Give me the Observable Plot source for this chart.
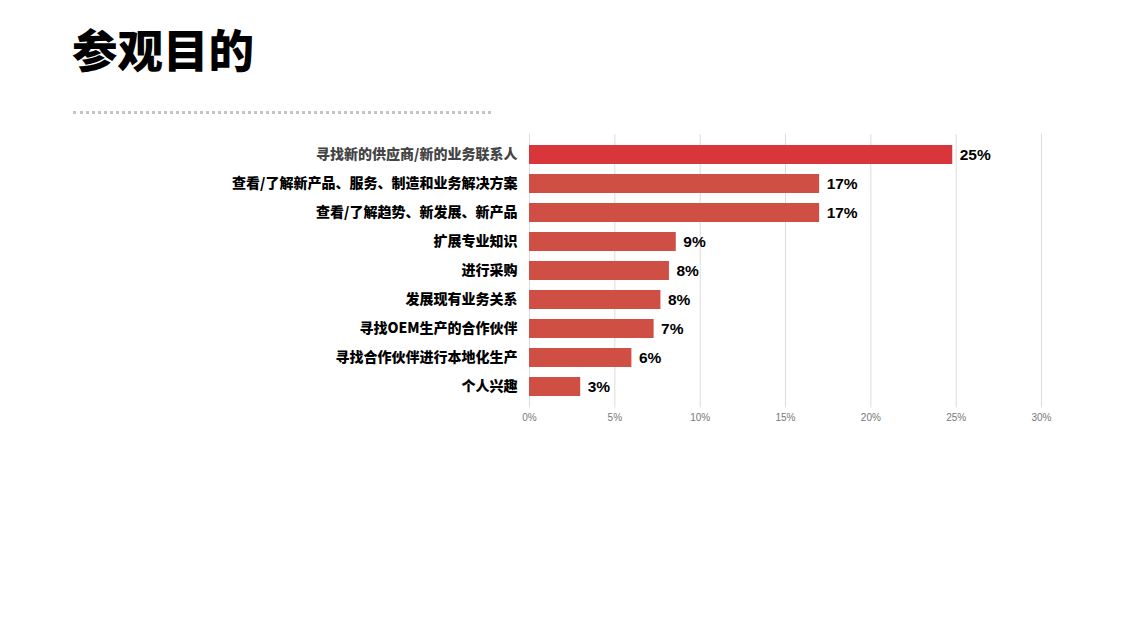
<!DOCTYPE html>
<html><head><meta charset="utf-8">
<script src="https://cdn.jsdelivr.net/npm/d3@7"></script>
<script src="https://cdn.jsdelivr.net/npm/@observablehq/plot@0.6"></script>
<style>
html,body{margin:0;padding:0;background:#fff;width:1125px;height:632px;overflow:hidden;position:relative;}
#title{position:absolute;left:72px;top:18px;font-family:"Noto Sans CJK SC",sans-serif;font-weight:900;font-size:45.5px;line-height:60px;color:#000;}
#rule{position:absolute;left:73px;top:111px;width:418px;height:0;border-top:3px dotted #c4c4c4;}
#chart{position:absolute;left:0;top:124px;}
</style></head>
<body>
<div id="title">参观目的</div>
<div id="rule"></div>
<div id="chart"></div>
<script>
const categories = ["寻找新的供应商/新的业务联系人","查看/了解新产品、服务、制造和业务解决方案","查看/了解趋势、新发展、新产品","扩展专业知识","进行采购","发展现有业务关系","寻找OEM生产的合作伙伴","寻找合作伙伴进行本地化生产","个人兴趣"];
const values = [24.8, 17.0, 17.0, 8.6, 8.2, 7.7, 7.3, 6.0, 3.0];
const labels = ["25%","17%","17%","9%","8%","8%","7%","6%","3%"];
const xTicks = [0,5,10,15,20,25,30];
const data = categories.map((c,i)=>({cat:c, v:values[i], label:labels[i], i}));

const chart = Plot.plot({
  width: 1125, height: 314,
  marginLeft: 529, marginRight: 84, marginTop: 10, marginBottom: 30.5,
  style: {fontFamily: "'Liberation Sans', Arial, sans-serif", background: "#fff"},
  x: {domain: [0,30], ticks: xTicks, tickFormat: d => d + "%", label: null, tickSize: 0, tickPadding: 6},
  y: {domain: categories, padding: 0.35, axis: null},
  marks: [
    Plot.gridX(xTicks, {stroke: "#dcdcdc", strokeOpacity: 1, strokeWidth: 1}),
    Plot.axisX({ticks: xTicks, tickFormat: d => d + "%", tickSize: 0, tickPadding: 6, fill: "#777", fontSize: 10, label: null}),
    Plot.barX(data, {x: "v", y: "cat", fill: d => d.i === 0 ? "#d9363b" : "#d04f45"}),
    Plot.text(data, {x: 0, y: "cat", text: "cat", textAnchor: "end", dx: -12, fontSize: 14, fontWeight: 900,
      fontFamily: "'Noto Sans CJK SC', sans-serif", fill: d => d.i === 0 ? "#444" : "#000"}),
    Plot.text(data, {x: "v", y: "cat", text: "label", textAnchor: "start", dx: 7, dy: 0.5, fontSize: 15.5, fontWeight: "bold", fill: "#000"})
  ]
});
document.getElementById("chart").appendChild(chart);
</script>
</body></html>
